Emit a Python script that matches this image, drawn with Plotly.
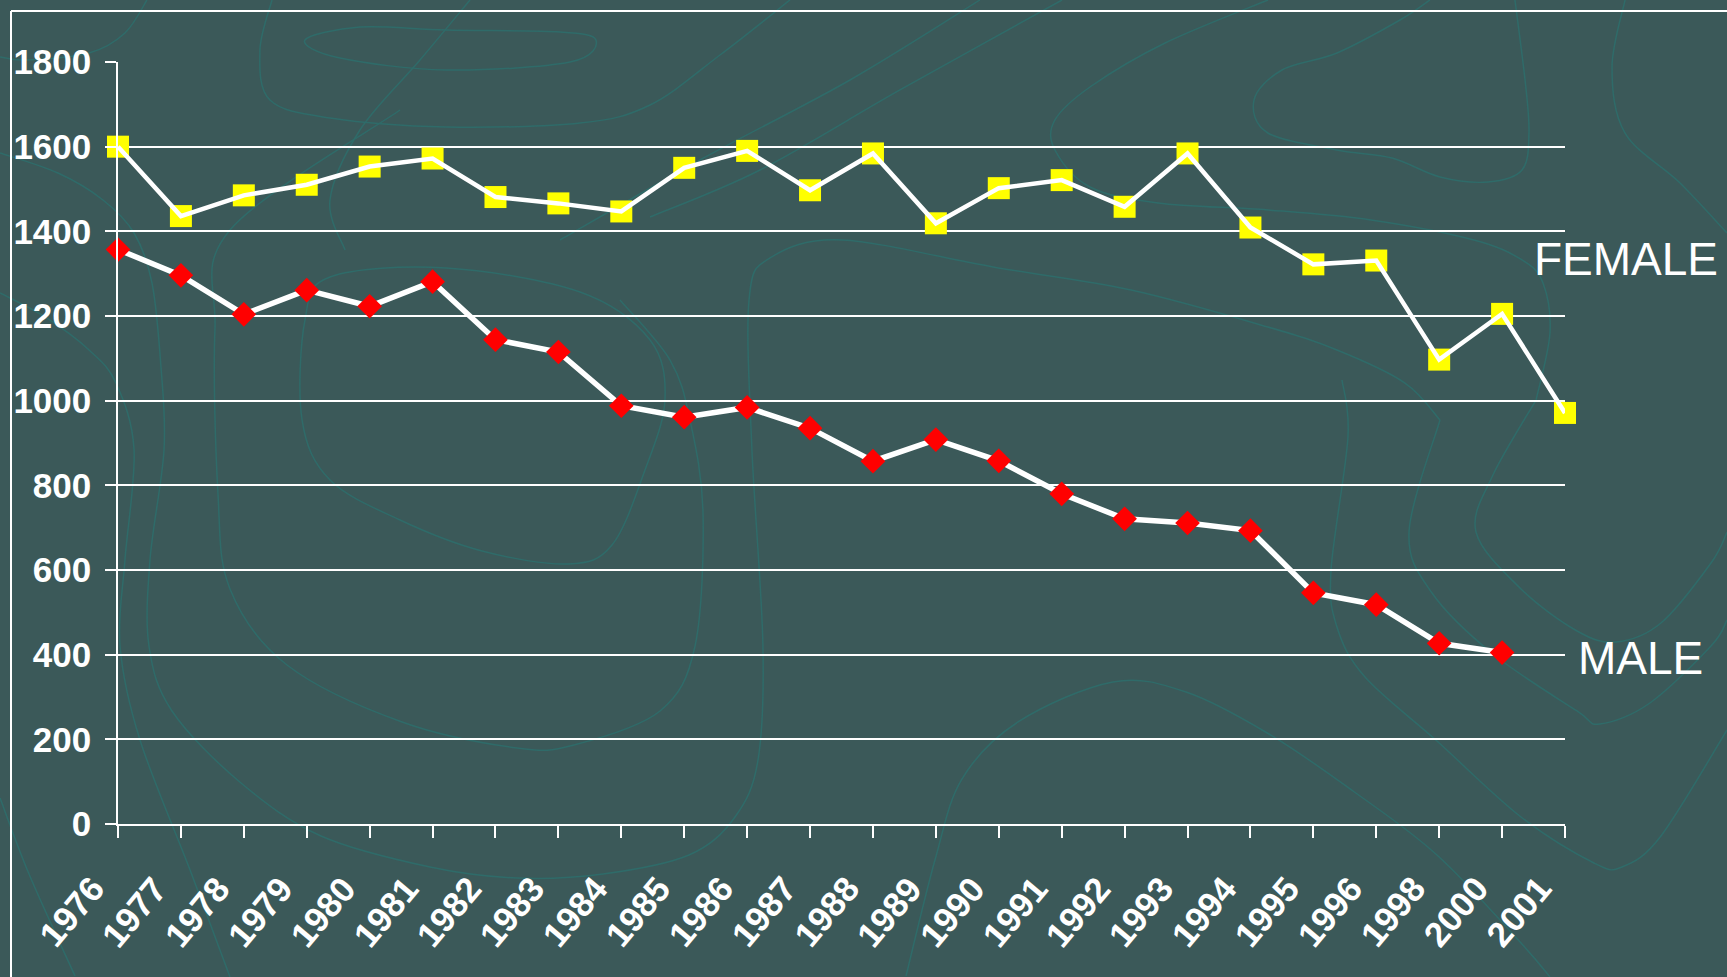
import plotly.graph_objects as go

years = ["1976", "1977", "1978", "1979", "1980", "1981", "1982", "1983", "1984",
         "1985", "1986", "1987", "1988", "1989", "1990", "1991", "1992", "1993",
         "1994", "1995", "1996", "1998", "2000", "2001"]
female = [1600, 1436, 1485, 1510, 1553, 1572, 1481, 1466, 1447, 1550, 1590, 1497,
          1584, 1419, 1502, 1521, 1458, 1584, 1409, 1322, 1331, 1097, 1205, 971]
male = [1357, 1296, 1204, 1261, 1223, 1281, 1144, 1115, 988, 961, 984, 935,
        857, 908, 858, 780, 721, 711, 693, 546, 518, 427, 405, None]
y_ticks = [0, 200, 400, 600, 800, 1000, 1200, 1400, 1600, 1800]

BG = "#3b5959"
CONTOUR = "#2f6b69"
W, H = 1727, 977
L, R, T, B = 118, 162, 62, 153
PW, PH = W - L - R, H - T - B


def px2paper(x, y):
    return (x - L) / PW, (H - B - y) / PH


def smooth_path(pts, closed=False):
    # Catmull-Rom -> cubic bezier, in paper coords
    P = [px2paper(*p) for p in pts]
    if closed:
        P = P + P[:3]
    n = len(P)
    d = "M{:.4f},{:.4f}".format(*P[1]) if closed else "M{:.4f},{:.4f}".format(*P[0])
    rng = range(1, n - 2) if closed else range(0, n - 1)
    for i in rng:
        p0 = P[i - 1] if i - 1 >= 0 else P[i]
        p1 = P[i]
        p2 = P[i + 1]
        p3 = P[i + 2] if i + 2 < n else P[i + 1]
        c1 = (p1[0] + (p2[0] - p0[0]) / 6, p1[1] + (p2[1] - p0[1]) / 6)
        c2 = (p2[0] - (p3[0] - p1[0]) / 6, p2[1] - (p3[1] - p1[1]) / 6)
        d += " C{:.4f},{:.4f} {:.4f},{:.4f} {:.4f},{:.4f}".format(c1[0], c1[1], c2[0], c2[1], p2[0], p2[1])
    if closed:
        d += " Z"
    return d


# decorative background contour lines (pixel coords of the slide)
contours = [
    ([(305, 40), (360, 27), (446, 30), (560, 32), (596, 40), (570, 62), (446, 70), (340, 58)], True),
    ([(272, 0), (260, 50), (270, 100), (330, 118), (446, 127), (580, 123), (650, 105), (720, 55), (790, 0)], False),
    ([(147, 0), (125, 33), (89, 53), (27, 60), (0, 57)], False),
    ([(0, 153), (58, 173), (103, 200), (134, 233), (152, 283), (161, 367), (164, 450), (150, 560), (149, 646),
      (172, 711), (241, 783), (321, 836), (430, 867), (517, 878), (603, 874), (689, 855), (735, 817),
      (758, 760), (763, 646), (752, 450), (749, 300), (770, 258), (842, 240), (993, 267), (1131, 290),
      (1268, 327), (1337, 350), (1405, 383), (1440, 420)], False),
    ([(0, 293), (45, 317), (89, 350), (116, 383), (134, 450), (125, 560), (120, 646), (140, 740), (190, 870), (230, 977)], False),
    ([(0, 798), (29, 874), (75, 976)], False),
    ([(330, 277), (446, 268), (580, 292), (650, 340), (665, 400), (645, 470), (612, 545), (568, 564),
      (482, 551), (400, 520), (330, 480), (302, 420), (305, 320)], True),
    ([(400, 110), (230, 230), (215, 330), (218, 494), (230, 589), (287, 665), (402, 722), (517, 748),
      (574, 745), (660, 711), (695, 646), (703, 513), (690, 420), (670, 360), (620, 300)], False),
    ([(470, 0), (420, 60), (360, 130), (330, 200), (345, 250)], False),
    ([(906, 976), (935, 860), (962, 779), (1018, 722), (1113, 682), (1186, 692), (1269, 734),
      (1353, 791), (1437, 855), (1521, 943), (1550, 977)], False),
    ([(1342, 380), (1348, 437), (1331, 570), (1337, 627), (1365, 677), (1437, 741), (1521, 817),
      (1594, 863), (1622, 867), (1661, 836), (1727, 730)], False),
    ([(1440, 420), (1409, 532), (1432, 593), (1493, 654), (1577, 711), (1600, 724), (1650, 703), (1711, 646), (1727, 620)], False),
    ([(1536, 400), (1493, 475), (1476, 532), (1521, 589), (1577, 631), (1616, 642), (1661, 623), (1711, 563), (1727, 532)], False),
    ([(1268, 0), (1165, 43), (1090, 87), (1055, 120), (1055, 150), (1090, 187), (1158, 203), (1268, 210),
      (1371, 220), (1474, 240), (1522, 260), (1543, 283), (1550, 333), (1536, 400)], False),
    ([(1515, 0), (1525, 80), (1529, 133), (1522, 170), (1488, 182), (1440, 177), (1392, 158), (1337, 150),
      (1268, 133), (1254, 100), (1282, 70), (1337, 53), (1400, 20), (1430, 0)], False),
    ([(1625, 0), (1612, 67), (1625, 133), (1680, 183), (1727, 233)], False),
    ([(1062, 0), (900, 90), (760, 170), (650, 217)], False),
    ([(980, 0), (850, 80), (700, 160), (560, 240)], False),
]

shapes = []
for pts, closed in contours:
    shapes.append(dict(type="path", xref="paper", yref="paper", layer="below",
                       path=smooth_path(pts, closed), line=dict(color=CONTOUR, width=1.5)))

# slide frame lines
fx0, fy0 = px2paper(11, 11)
fx1, fy1 = px2paper(W + 5, H + 5)
shapes.append(dict(type="line", xref="paper", yref="paper", x0=fx0, y0=fy0, x1=fx1, y1=fy0,
                   line=dict(color="white", width=2), layer="below"))
shapes.append(dict(type="line", xref="paper", yref="paper", x0=fx0, y0=fy0, x1=fx0, y1=fy1,
                   line=dict(color="white", width=2), layer="below"))

fig = go.Figure()
# female: markers under the line
fig.add_trace(go.Scatter(x=years, y=female, mode="markers", cliponaxis=False,
                         marker=dict(symbol="square", size=22, color="#ffff00",
                                     line=dict(width=0)), showlegend=False))
fig.add_trace(go.Scatter(x=years, y=female, mode="lines", cliponaxis=False,
                         line=dict(color="white", width=4.5), showlegend=False))
# male: line under the markers
fig.add_trace(go.Scatter(x=years, y=male, mode="lines", cliponaxis=False,
                         line=dict(color="white", width=5.5), showlegend=False))
fig.add_trace(go.Scatter(x=years, y=male, mode="markers", cliponaxis=False,
                         marker=dict(symbol="diamond", size=19, color="#ff0000",
                                     line=dict(width=0)), showlegend=False))

fx, _ = px2paper(1532, 0)
mx, _ = px2paper(1576, 0)
fig.add_annotation(x=fx, xref="paper", y=1335, yref="y", text="FEMALE", showarrow=False,
                   xanchor="left", yanchor="middle",
                   font=dict(family="Liberation Sans, Arial", size=46, color="white"))
fig.add_annotation(x=mx, xref="paper", y=392, yref="y", text="MALE", showarrow=False,
                   xanchor="left", yanchor="middle",
                   font=dict(family="Liberation Sans, Arial", size=46, color="white"))

# category tick labels, rotated, placed at each category position (category index)
for i, yr in enumerate(years):
    fig.add_annotation(x=i, xref="x", y=0, yref="paper", text=yr, showarrow=False,
                       textangle=-50, xanchor="right", yanchor="top", borderpad=0,
                       xshift=-5, yshift=-44,
                       font=dict(family="Liberation Sans, Arial", size=35, color="white",
                                 weight="bold"))

fig.update_layout(
    width=W, height=H,
    margin=dict(l=L, r=R, t=T, b=B, pad=0),
    paper_bgcolor=BG, plot_bgcolor=BG,
    shapes=shapes,
    font=dict(family="Liberation Sans, Arial", color="white"),
    xaxis=dict(type="category", categoryorder="array", categoryarray=years,
               range=[0, len(years) - 1], showgrid=False, zeroline=False,
               showline=True, linecolor="white", linewidth=2,
               ticks="outside", ticklen=12, tickcolor="white", tickwidth=2,
               showticklabels=False),
    yaxis=dict(range=[0, 1800], tickvals=y_ticks, ticktext=[str(v) for v in y_ticks],
               showgrid=True, gridcolor="white", gridwidth=2, zeroline=False,
               showline=True, linecolor="white", linewidth=1.5,
               ticks="outside", ticklen=11, tickcolor="white", tickwidth=2,
               ticklabelstandoff=7,
               tickfont=dict(family="Liberation Sans, Arial", size=35, color="white", weight="bold")),
)

fig.write_html("out.html", config={"displayModeBar": False},
               post_script="document.body.style.margin='0';document.body.style.overflow='hidden';")
